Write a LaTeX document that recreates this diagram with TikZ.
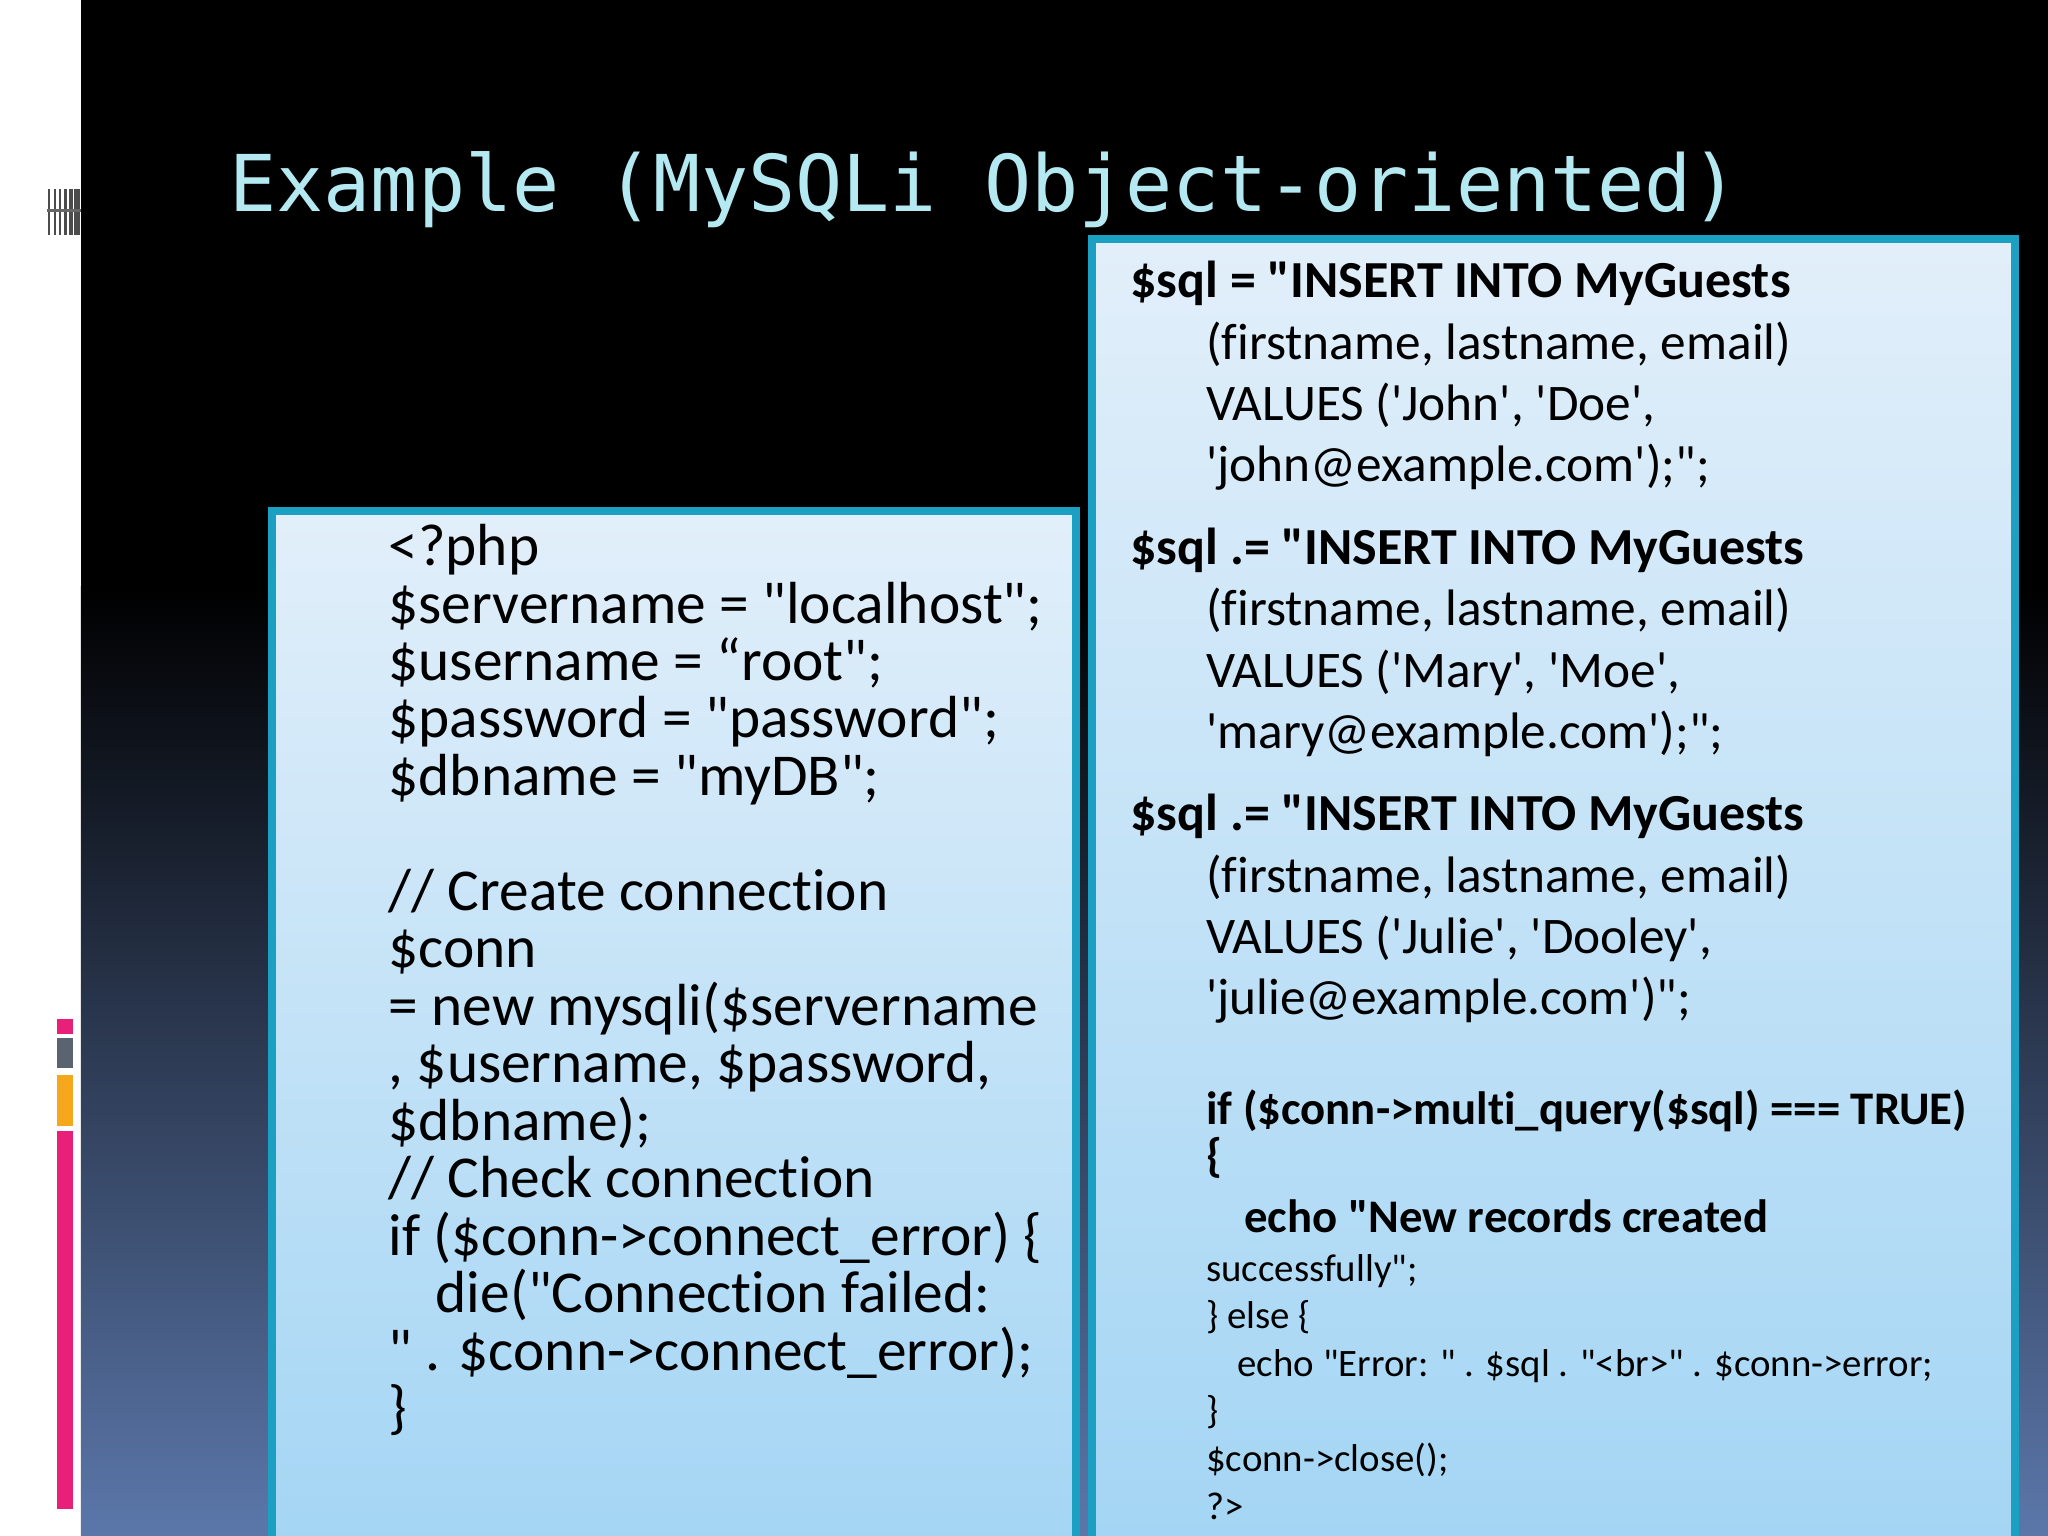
\documentclass[tikz,border=0pt]{standalone}
\usepackage{fontspec}
\setmainfont{Carlito}[Ligatures={TeXOff,NoCommon}]
\newfontfamily\titlefont{DejaVu Sans Mono}
\definecolor{titlec}{HTML}{B4E9F2}
\definecolor{boxtop}{HTML}{E2EFFA}
\definecolor{boxbot}{HTML}{A3D5F4}
\definecolor{boxedge}{HTML}{1B9FC2}
\definecolor{bgbot}{HTML}{5B77AA}
\definecolor{pinkc}{HTML}{E8207A}
\definecolor{grayc}{HTML}{5A6470}
\definecolor{orangec}{HTML}{F5A81C}
\tikzset{
  codebox/.style={draw=boxedge,line width=2.2pt,top color=boxtop,bottom color=boxbot},
  L/.style={anchor=base west,inner sep=0pt,font=\fontsize{16.9}{17}\selectfont},
  R/.style={anchor=base west,inner sep=0pt,font=\fontsize{14.6}{16}\selectfont},
  RB/.style={R,font=\fontsize{14.8}{16}\selectfont\bfseries},
  RI/.style={anchor=base west,inner sep=0pt,font=\fontsize{13.3}{16}\selectfont\bfseries},
  RS/.style={anchor=base west,inner sep=0pt,font=\fontsize{11.05}{14}\selectfont},
}
\begin{document}
\begin{tikzpicture}[x=0.013061cm,y=-0.013061cm]
\useasboundingbox (0,0) rectangle (1568,1176);
\fill[white] (0,0) rectangle (62,1176);
\fill[black] (62,0) rectangle (1568,450);
\shade[top color=black,bottom color=bgbot] (62,449) rectangle (1568,1176);
% decoration
\foreach \xx/\ww in {37/1.5,41/1.5,45/2,49/2,53/3,57/4}{\fill[black!70] (\xx,145) rectangle ++(\ww,35);}
\fill[black!60] (36,160) rectangle (62,162);
\fill[pinkc] (44,780) rectangle (56,792);
\fill[grayc] (44,795) rectangle (56,818);
\fill[orangec] (44,823) rectangle (56,862);
\fill[pinkc] (44,866) rectangle (56,1155);
% title
\node[anchor=base west,inner sep=0pt,text=titlec,font=\titlefont\fontsize{22.3}{24}\selectfont] (title) at (175,162) {Example (MySQLi Object-oriented)};
% boxes
\path[codebox] (208,391) rectangle (824,1190);
\path[codebox] (836,183) rectangle (1543,1190);
% left code
\node[L] (l1) at (297,433) {<?php};
\node[L] (l2) at (297,477) {\$servername = "localhost";};
\node[L] (l3) at (297,521) {\$username = “root";};
\node[L] (l4) at (297,565) {\$password = "password";};
\node[L] (l5) at (297,609) {\$dbname = "myDB";};
\node[L] (l6) at (297,697) {// Create connection};
\node[L] (l7) at (297,741) {\$conn};
\node[L] (l8) at (297,785) {= new mysqli(\$servername};
\node[L] (l9) at (297,829) {, \$username, \$password,};
\node[L] (l10) at (297,873) {\$dbname);};
\node[L] (l11) at (297,917) {// Check connection};
\node[L] (l12) at (297,961) {if (\$conn->connect\_error) \{};
\node[L] (l13) at (333,1005) {die("Connection failed:};
\node[L] (l14) at (297,1049) {" . \$conn->connect\_error);};
\node[L] (l15) at (297,1093) {\}};
% right code
\node[RB] (r1) at (865,228) {\$sql = "INSERT INTO MyGuests};
\node[R] (r2) at (923,275) {(firstname, lastname, email)};
\node[R] (r3) at (923,322) {VALUES ('John', 'Doe',};
\node[R] (r4) at (923,369) {'john@example.com');";};
\node[RB] (r5) at (865,432) {\$sql .= "INSERT INTO MyGuests};
\node[R] (r6) at (923,479) {(firstname, lastname, email)};
\node[R] (r7) at (923,526) {VALUES ('Mary', 'Moe',};
\node[R] (r8) at (923,573) {'mary@example.com');";};
\node[RB] (r9) at (865,636) {\$sql .= "INSERT INTO MyGuests};
\node[R] (r10) at (923,683) {(firstname, lastname, email)};
\node[R] (r11) at (923,730) {VALUES ('Julie', 'Dooley',};
\node[R] (r12) at (923,777) {'julie@example.com')";};
\node[RI] (r13) at (923,861) {if (\$conn->multi\_query(\$sql) === TRUE)};
\node[RI] (r14) at (923,897) {\{};
\node[RI] (r15) at (952,944) {echo "New records created};
\node[RS] (r16) at (923,981) {successfully";};
\node[RS] (r17) at (923,1017) {\} else \{};
\node[RS] (r18) at (947,1054) {echo "Error: " . \$sql . "<br>" . \$conn->error;};
\node[RS] (r19) at (923,1090) {\}};
\node[RS] (r20) at (923,1127) {\$conn->close();};
\node[RS] (r21) at (923,1163) {?>};
\end{tikzpicture}
\end{document}
